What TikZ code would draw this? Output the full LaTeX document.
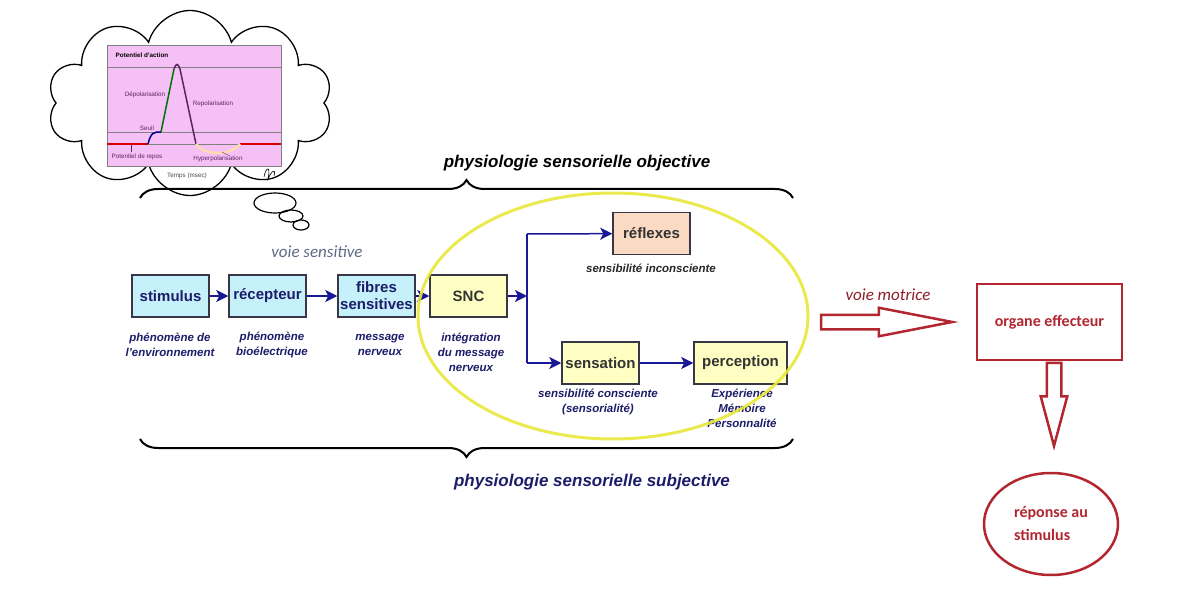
\documentclass[tikz,border=0pt]{standalone}
\usepackage{fontspec}
\setmainfont{Liberation Sans}
\newfontfamily\calibri{Carlito}
\usetikzlibrary{shapes.symbols,shapes.arrows,shapes.geometric,decorations.pathreplacing,arrows.meta}
\definecolor{marine}{RGB}{28,28,105}
\definecolor{bleufl}{RGB}{25,25,150}
\definecolor{cyanpale}{RGB}{198,240,250}
\definecolor{jaunepale}{RGB}{255,255,195}
\definecolor{peche}{RGB}{250,218,195}
\definecolor{bord}{RGB}{55,55,70}
\definecolor{jauneell}{RGB}{232,232,60}
\definecolor{rougef}{RGB}{178,38,48}
\definecolor{rose}{RGB}{245,192,245}
\definecolor{violet}{RGB}{95,35,95}
\definecolor{grisvoie}{RGB}{95,105,135}
\tikzset{
 boite/.style={draw=bord,line width=1.5pt,minimum width=77pt,minimum height=42pt,inner sep=1pt,align=center,font=\fontsize{15}{17}\selectfont\bfseries},
 bleue/.style={boite,fill=cyanpale,text=marine},
 jaune/.style={boite,fill=jaunepale,text=black!80},
 legende/.style={align=center,text=marine,font=\fontsize{11.5}{15}\selectfont\bfseries\itshape},
 fleche/.style={draw=bleufl,line width=1.5pt,-{Stealth[length=12pt,width=12pt,inset=3pt]}},
 petit/.style={text=violet,inner sep=0pt,font=\fontsize{6.3}{7}\selectfont},
 accolade/.style={decorate,decoration={brace,amplitude=18pt},line width=2pt},
 grosse/.style={single arrow,draw=rougef,line width=2.5pt,inner xsep=0pt,inner ysep=6pt,text height=0pt,text depth=0pt,anchor=tip},
}
\begin{document}
\begin{tikzpicture}[x=1pt,y=-1pt]
\useasboundingbox (0,0) rectangle (1200,599);
% nuage : potentiel d'action
\node[cloud,cloud puffs=10,draw,line width=1.3pt,fill=white,minimum width=285pt,minimum height=185pt] (nuage) at (190,103) {};
\draw[line width=1.2pt] (275,203) ellipse [x radius=21pt,y radius=10pt];
\draw[line width=1.2pt] (291,216) ellipse [x radius=12pt,y radius=6pt];
\draw[line width=1.2pt] (301,225) ellipse [x radius=8pt,y radius=5pt];
\node[draw=gray,fill=rose,minimum width=174pt,minimum height=121pt,inner sep=0pt] (courbe) at (194,105.5) {};
\draw[gray] (107,67) -- (281,67);
\draw[gray] (107,132) -- (281,132);
\draw[gray] (107,144) -- (281,144);
\draw[red!85!black,line width=2pt] (107,144) -- (148,144);
\draw[red!85!black,line width=2pt] (240,144) -- (281,144);
\draw[blue!60!black,line width=1.5pt] (148,144) .. controls (151,132) and (154,132) .. (161,132);
\draw[green!45!black,line width=1.5pt] (161,132) -- (174,69);
\draw[violet,line width=1.5pt] (174,69) .. controls (176,63) and (178,63) .. (180,69) -- (196,144);
\draw[orange!30,line width=2.5pt] (196,144) .. controls (205,156) and (230,156) .. (240,144);
\node[petit,text=black] at (142,55) {\bfseries Potentiel d'action};
\node[petit] at (145,95) {Dépolarisation};
\node[petit] at (213,104) {Repolarisation};
\node[petit] at (147,128) {Seuil};
\node[petit] at (137,157) {Potentiel de repos};
\node[petit] at (218,159) {Hyperpolarisation};
\node[petit,text=black!70] at (187,176) {Temps (msec)};
\draw[violet,thin] (131,145) -- (131,152);
\draw[violet,thin] (222,152) -- (230,156);
\draw[line width=0.6pt] (264,177) .. controls (266,166) and (271,166) .. (268,179) .. controls (272,170) and (276,168) .. (274,176);
% accolades
\draw[accolade] (140,198) -- (793,198);
\node[font=\fontsize{17}{20}\selectfont\bfseries\itshape] (objective) at (577,163) {physiologie sensorielle objective};
\draw[accolade] (793,439) -- (140,439);
\node[text=marine,font=\fontsize{17}{20}\selectfont\bfseries\itshape] (subjective) at (592,482) {physiologie sensorielle subjective};
% voie sensitive
\node[text=grisvoie,font=\calibri\fontsize{17}{20}\selectfont\itshape] (sensitive) at (317,252) {voie sensitive};
\node[bleue] (stimulus) at (170.5,296) {stimulus};
\node[bleue] (recepteur) at (267.5,296) {récepteur};
\node[bleue] (fibres) at (376.5,296) {fibres\\sensitives};
\node[jaune] (snc) at (468.5,296) {SNC};
\node[boite,fill=peche,text=black!80] (reflexes) at (651.5,233.5) {réflexes};
\node[jaune] (sensation) at (600.5,363) {sensation};
\node[jaune,minimum width=93pt] (perception) at (740.5,363) {perception};
\coordinate (noeud) at (527,296);
\coordinate (haut) at (527,234);
\coordinate (bas) at (527,363);
\draw[fleche] (stimulus) -- (recepteur);
\draw[fleche] (recepteur) -- (fibres);
\draw[fleche] (fibres) -- (snc);
\draw[fleche] (snc) -- (noeud);
\draw[draw=bleufl,line width=1.5pt] (haut) -- (bas);
\draw[fleche] (haut) -- (reflexes);
\draw[fleche] (bas) -- (sensation);
\draw[fleche] (sensation) -- (perception);
\node[legende] (l1) at (170,345) {phénomène de\\l'environnement};
\node[legende] (l2) at (272,345) {phénomène\\bioélectrique};
\node[legende] (l3) at (380,345) {message\\nerveux};
\node[legende] (l4) at (471,352) {intégration\\du message\\nerveux};
\node[legende,text=black!85] (l5) at (651,268) {sensibilité inconsciente};
\node[legende] (l6) at (598,402) {sensibilité consciente\\(sensorialité)};
\node[legende] (l7) at (742,408) {Expérience\\Mémoire\\Personnalité};
\draw[jauneell,line width=3pt,opacity=.9] (613,316) ellipse [x radius=195pt,y radius=123pt];
% voie motrice
\node[draw=rougef,line width=2.5pt,minimum width=145pt,minimum height=76pt,text=rougef,font=\calibri\fontsize{16}{19}\selectfont\bfseries] (effecteur) at (1049.5,322) {organe effecteur};
\node[text=rougef!80!black,font=\calibri\fontsize{17}{20}\selectfont\itshape] (motrice) at (888,295) {voie motrice};
\node[grosse,minimum height=131pt,single arrow head extend=7pt,single arrow tip angle=22] (versorgane) at ([xshift=-17pt]effecteur.west) {};
\node[ellipse,draw=rougef,line width=2.5pt,minimum width=134pt,minimum height=102pt,text=rougef,align=left,font=\calibri\fontsize{16}{23}\selectfont\bfseries] (reponse) at (1051,524) {réponse au\\stimulus};
\node[grosse,rotate=-90,minimum height=83pt,single arrow head extend=6pt,single arrow tip angle=30] (versreponse) at ([yshift=21pt,xshift=3pt]reponse.north) {};
\end{tikzpicture}
\end{document}
